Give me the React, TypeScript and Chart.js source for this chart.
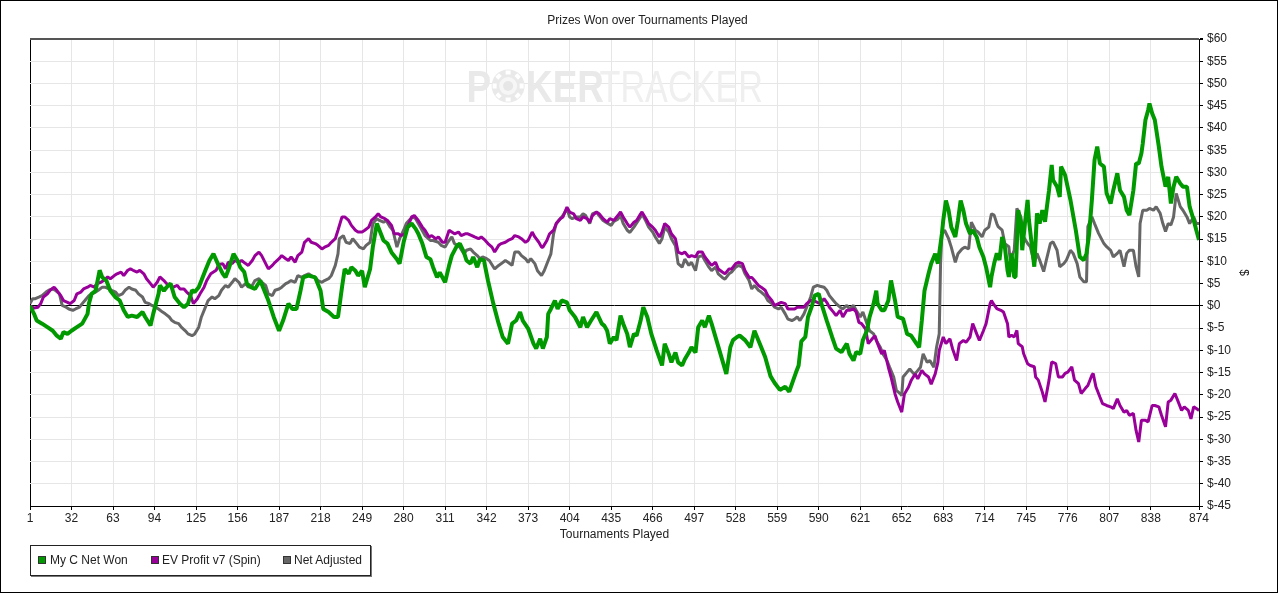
import React, { useEffect, useRef } from 'react';
import { Chart, registerables } from 'chart.js';

Chart.register(...registerables);

// ---------- data ----------
const chartTitle = 'Prizes Won over Tournaments Played';
const xAxisTitle = 'Tournaments Played';
const yAxisTitle = '$';
const seriesNames = ['My C Net Won', 'EV Profit v7 (Spin)', 'Net Adjusted'];
const seriesColors = ['#009900', '#990099', '#666666'];

const xTickValues = [1, 32, 63, 94, 125, 156, 187, 218, 249, 280, 311, 342, 373, 404, 435, 466, 497, 528, 559, 590, 621, 652, 683, 714, 745, 776, 807, 838, 874];
const yMin = -45;
const yMax = 60;
const yStep = 5;

// My C Net Won: tournament number / cumulative $
const greenT = [1, 4, 6, 10, 14, 18, 21, 24, 26, 29, 32, 36, 40, 44, 45, 47, 50, 53, 55, 58, 61, 65, 68, 71, 74, 77, 81, 85, 87, 91, 93, 97, 98, 101, 103, 106, 109, 113, 116, 119, 122, 124, 127, 129, 132, 135, 138, 142, 145, 147,
  149, 153, 156, 158, 161, 163, 166, 169, 173, 175, 179, 183, 187, 190, 194, 197, 200, 203, 205, 209, 214, 218, 220, 224, 228, 231, 234, 236, 239, 241, 244, 246, 249, 251, 255, 257, 260, 262, 265, 268, 271, 275, 277, 280, 283, 286,
  289, 291, 294, 297, 300, 302, 305, 307, 311, 314, 316, 320, 322, 325, 327, 330, 332, 335, 337, 340, 343, 347, 351, 354, 358, 361, 364, 367, 369, 373, 377, 379, 382, 384, 387, 388, 390, 393, 395, 398, 402, 404, 408, 412, 414, 417, 420, 424, 428,
  430, 432, 434, 437, 439, 442, 444, 447, 449, 452, 454, 457, 459, 462, 465, 469, 473, 475, 478, 480, 483, 485, 488, 490, 493, 495, 498, 500, 503, 505, 508, 510, 514, 518, 521, 524, 526, 529, 531, 535, 539, 542, 546, 550, 554, 557, 561, 565, 568, 571,
  573, 575, 577, 580, 582, 585, 587, 590, 592, 596, 600, 603, 607, 611, 613, 616, 618, 621, 623, 626, 628, 631, 633, 634, 637, 639, 642, 644, 647, 649, 653, 656, 659, 663, 665, 667, 669, 672, 674, 677, 679, 682, 683, 685, 687, 689, 692, 694, 696, 698, 700, 703, 705, 708, 710, 713, 715, 718,
  719, 721, 723, 725, 727, 729, 731, 732, 734, 736, 737, 739, 741, 742, 744, 746, 747, 749, 751, 753, 755, 757, 759, 762, 764, 765, 768, 770, 771, 774, 778, 782, 785, 788, 790, 792, 794, 796, 798, 800, 803, 805, 808, 810, 813, 815, 818, 820, 822, 825, 827, 829, 831, 832, 834, 836, 837, 839, 841, 844, 846, 849, 851, 853, 855, 857, 860, 862, 865, 867, 870, 872, 874];
const greenV = [0, -1.8, -3.3, -4, -4.8, -5.6, -6.7, -7.4, -5.9, -6.3, -5.6, -4.8, -4, -1.8, 0.5, 2.7, 3.4, 8, 6.4, 5.7, 3.4, 1.9, 1.2, -1, -2.5, -2.2, -2.5, -1.4, -2.5, -4.4, -1.8, 2.7, 4.6, 3.4, 4.2, 5, 2, 0.5, -0.3, 0.5, 3.5, 3.1, 4.2, 5.7, 8, 10.2, 11.7, 9, 7.2, 6.4,
  8, 11.7, 10.2, 8.7, 7.6, 5, 4.2, 3.8, 5.7, 4.2, 1.2, -2.5, -5.6, -3.3, 0.5, -0.7, -0.7, 3.4, 6.4, 6.8, 6.4, 3.4, -0.7, -1.4, -2.5, -2.5, 4.2, 8.3, 7.2, 8.7, 7.9, 6.8, 7.9, 4.2, 8.3, 13.2, 18.5, 17, 14.7, 14, 12, 10.5, 9.5, 14.3, 17.7, 18.5,
  17.3, 16.2, 14, 11, 10.5, 8.7, 6.4, 7.5, 5.3, 9.1, 11.3, 13.6, 14, 12.1, 10.2, 9.5, 11, 8.7, 10.5, 10.2, 5.7, 0.5, -4, -7, -8.5, -4, -3.3, -1.4, -3.3, -5.1, -8.5, -9.6, -7.4, -9.6, -7, -1.8, -0.7, 1.2, -0.7, 1.2, 0.8, -1, -2.5, -4.8, -2.5, -4.8, -3.3, -1.4, -4,
  -4.5, -5.6, -8.5, -7, -7.7, -2.2, -4, -6.3, -9.3, -6.3, -6.7, -3.3, -0.3, -2.5, -6.3, -10, -13.4, -8.5, -10.8, -12.7, -10.5, -12.7, -13.4, -12, -10.5, -9.3, -10.5, -4.8, -3.3, -4.8, -2.2, -4, -8.1, -12.2, -15.3, -9.3, -7.7, -7, -6.7, -7.7, -9.3, -5.6, -8.5, -11.5, -15.8, -17.3, -18.9, -18.2, -19.3, -16.7,
  -15, -13.4, -8, -7, -2.5, 0, 2.3, 2.7, 0.5, -3.3, -7, -9.6, -10.4, -8.5, -10.8, -12.3, -10.4, -10.8, -7.7, -5.6, -2.5, 0.5, 3.4, 0.5, -1, -1, 1.2, 5.7, 1.2, -2.5, -2.9, -6.3, -6.7, -8.5, -9.3, -3.3, 3.4, 7.2, 9.5, 11.7, 9.5, 16.2, 19.2, 23.7, 21.5, 17.7, 15.5, 19.2, 23.7, 21.5, 18.5, 16.2, 17, 15.5, 13.2, 11, 8.7, 4.2,
  6.5, 9.5, 11.8, 10.3, 15.5, 13.3, 8, 6.5, 11.8, 6.5, 6.5, 21.5, 18.5, 12.5, 18.5, 23.8, 19.3, 14, 8.8, 20.8, 18.5, 21.5, 18.9, 26, 31.7, 28.3, 26.8, 24.5, 31.3, 29.4, 23.8, 17, 11, 10.3, 11.8, 16.3, 23.8, 32.8, 35.8, 32, 31.3, 25.3, 23, 26, 29.8, 26, 24.5, 21.5, 20.4, 26, 32, 32, 34.3, 36.5, 41.8, 44, 45.5, 43.3, 41.8, 35.8, 31.3, 26.8, 29, 23, 26.8, 29, 27.5, 26.8, 26.8, 22.3, 19.3, 17, 14.8];

// EV Profit v7 (Spin)
const purpleT = [1, 4, 7, 9, 11, 14, 16, 19, 21, 24, 26, 29, 31, 34, 36, 39, 41, 44, 46, 49, 51, 54, 56, 59, 61, 64, 66, 69, 71, 74, 76, 78, 81, 83, 86, 88, 91, 93, 96, 98, 101, 103, 106, 108, 111, 113, 116, 118, 121, 123, 126, 128, 131, 133, 136, 138, 140, 142, 145, 147,
  149, 152, 154, 157, 159, 162, 164, 167, 169, 172, 174, 177, 179, 182, 184, 187, 189, 192, 194, 196, 199, 201, 204, 206, 209, 211, 214, 216, 219, 221, 224, 226, 229, 231, 234, 236, 239, 241, 244, 246, 249, 251, 254, 256, 259, 261, 263, 266, 268, 271, 273, 276, 278, 281, 283, 286,
  288, 291, 294, 296, 299, 301, 304, 306, 309, 311, 314, 316, 318, 321, 323, 326, 328, 331, 333, 336, 338, 341, 343, 346, 348, 351, 353, 356, 358, 361, 363, 366, 368, 371, 373, 376, 378, 381, 383, 384, 387, 389, 392, 394, 397, 399, 402, 404, 407, 409, 412, 414, 417, 419, 421, 424, 426, 429,
  432, 434, 437, 440, 442, 444, 447, 449, 452, 454, 457, 458, 461, 463, 466, 468, 471, 473, 475, 478, 480, 483, 485, 488, 490, 493, 495, 498, 500, 503, 505, 508, 510, 513, 515, 518, 520, 523, 525, 528, 530, 533, 535, 538, 540, 542, 545, 547, 550, 552, 555, 557, 560, 562, 565, 567, 570, 572,
  574, 576, 579, 581, 584, 586, 589, 591, 594, 596, 598, 601, 603, 606, 608, 611, 613, 616, 618, 620, 622, 625, 627, 630, 632, 634, 637, 639, 642, 644, 647, 649, 652, 654, 657, 659, 662, 664, 667, 669, 672, 674, 677, 679, 680, 683, 685, 688, 690, 693, 695, 698, 700, 703, 705, 708, 710, 713, 715, 718,
  719, 721, 723, 726, 728, 731, 732, 734, 736, 738, 739, 742, 743, 746, 748, 751, 752, 754, 757, 759, 762, 764, 767, 769, 772, 774, 776, 779, 781, 784, 786, 789, 791, 794, 795, 797, 800, 802, 805, 808, 810, 813, 815, 818, 820, 822, 825, 827, 829, 831, 834, 836, 839, 841, 844, 846, 849, 851, 853, 856, 858, 861, 863, 866, 868, 870, 872, 874];
const purpleV = [0, -0.5, -0.3, 0.5, 2, 2.7, 3.5, 4.2, 3.5, 2.3, 1.2, 0.8, 0.5, 1.2, 2.7, 3.1, 3.8, 4.2, 4.6, 4.2, 5, 5.3, 5.7, 6.5, 6.1, 6.8, 7.2, 7.6, 6.8, 8, 8.3, 8, 7.6, 8, 7.2, 6.1, 5, 4.2, 5.3, 6.5, 5.7, 5, 4.6, 4.2, 4.6, 3.8, 3.8, 3.1, 2.3, 0.5, 1.6, 2.7, 4.2, 5.7, 7.2, 7.6, 8, 9.3, 9.5, 8.3,
  9.8, 9.5, 10.2, 9.8, 10.2, 9.5, 9.1, 10.2, 11.3, 12.1, 11.3, 9.5, 8.3, 9.1, 9.8, 10.6, 11.3, 10.6, 10.2, 11, 9.8, 11.3, 12.1, 14.3, 15.1, 14.3, 14, 13.6, 12.8, 13.2, 13.6, 14.3, 15.1, 17, 20, 20, 19.2, 18.1, 17, 16.6, 16.6, 17, 17.7, 19.2, 20, 20.7, 20, 19.6, 19.2, 18.1, 16.2, 16.2, 15.8, 16.2, 17.7, 20,
  20.3, 19.2, 17.7, 17, 15.5, 15.8, 15.1, 15.5, 14.3, 14.3, 17, 16.6, 16.2, 16.6, 15.8, 16.2, 16.2, 15.8, 15.5, 15.1, 15.5, 14.7, 14, 13.2, 12.1, 13.6, 14, 14.3, 14.7, 15.1, 15.8, 15.5, 15.1, 14.3, 14.7, 16.6, 15.5, 14.3, 13.2, 13.2, 14.7, 16.2, 17, 18.5, 19.6, 20, 22.2, 21.1, 20.7, 19.6, 19.2, 20, 19.6, 18.8, 20.3, 21.1, 20.7, 19.6,
  18.8, 19.6, 19.2, 20.3, 21.1, 20, 18.5, 17.7, 18.8, 19.2, 20.7, 21.1, 19.6, 18.5, 17.7, 17, 15.5, 16.6, 18.5, 17.7, 16.2, 15.1, 12.1, 11.7, 12.1, 11, 11.3, 11, 12.1, 12.1, 11, 9.8, 9.1, 9.8, 8.3, 7.6, 7.2, 8.3, 8.3, 9.5, 9.8, 9.5, 7.9, 6.4, 6.4, 5.7, 4.6, 4.2, 3.5, 2.3, 1.2, 0.1, 0.5, 0.8, 0.5, -0.7, -0.7, -0.7,
  -0.3, -0.3, -0.3, 0.5, 1.2, 1.2, 0.8, 0.5, 1.6, 0.8, -0.3, -1.4, -2.2, -1, -2.5, -1, -1, -0.7, -1.4, -3.7, -4, -5.2, -8.5, -7.4, -6.7, -8.5, -10.8, -10, -13.8, -16, -19.8, -21.6, -23.9, -19.8, -18.3, -16.8, -15.3, -16.4, -14.5, -15.3, -16, -17.6, -15.3, -12.7, -10, -7, -8.5, -7.4, -9.7, -12.3, -8.5, -7.8, -8.2, -7, -4, -6.3, -7.8, -5.6, -4, 0.5,
  1.2, 0.2, -0.6, -1, -1.4, -4, -7, -6.6, -7, -5.5, -8.5, -9.2, -10.7, -13, -13.4, -13.7, -16, -16.7, -19.4, -21.6, -16.7, -12.6, -13, -16, -16, -15.2, -14.9, -13.7, -16.7, -17.5, -19.7, -18.6, -17.9, -15.6, -15.2, -18.2, -20.5, -22, -22.4, -22.7, -23.1, -20.9, -22.4, -23.9, -23.5, -24.6, -24.2, -28, -30.6, -25.7, -25.7, -26.1, -22.4, -22.4, -22.7, -24.6, -27.2, -21.6, -21.2, -19.7, -21.2, -23.5, -22.7, -23.5, -25.4, -22.7, -23.1, -23.5];

// Net Adjusted
const grayT = [1, 3, 5, 8, 10, 13, 15, 18, 20, 23, 25, 28, 30, 33, 35, 38, 40, 42, 45, 47, 50, 52, 55, 57, 60, 62, 65, 67, 70, 72, 75, 77, 80, 82, 85, 87, 90, 92, 95, 97, 100, 102, 105, 107, 109, 112, 114, 117, 119, 122, 124, 127, 129, 132, 134, 137, 139, 142, 144, 147,
  149, 152, 154, 157, 159, 162, 164, 167, 169, 172, 174, 177, 179, 182, 184, 187, 189, 192, 194, 196, 199, 201, 204, 206, 209, 211, 214, 216, 219, 221, 224, 226, 229, 231, 232, 235, 237, 240, 242, 245, 247, 250, 252, 255, 257, 260, 262, 265, 267, 270, 272, 275, 277, 280, 282, 284, 287, 289, 291,
  296, 300, 302, 306, 308, 311, 313, 316, 318, 322, 325, 327, 330, 332, 335, 337, 339, 342, 344, 348, 351, 353, 356, 358, 361, 363, 366, 368, 371, 373, 375, 378, 380, 383, 385, 388, 390, 392, 394, 397, 399, 402, 404, 406, 409, 412, 414, 416, 419, 421, 424, 426, 429, 431, 435,
  437, 440, 442, 444, 447, 449, 452, 457, 458, 461, 463, 466, 468, 471, 473, 475, 478, 480, 483, 485, 488, 490, 493, 495, 498, 500, 503, 505, 508, 510, 513, 515, 518, 520, 523, 525, 528, 530, 533, 535, 538, 540, 542, 545, 547, 550, 552, 555, 557, 560, 562, 565, 567, 570, 572,
  574, 576, 579, 581, 584, 586, 589, 591, 594, 596, 598, 601, 603, 606, 608, 611, 613, 616, 618, 621, 623, 626, 628, 631, 633, 636, 638, 641, 643, 646, 648, 651, 652, 653, 656, 658, 661, 663, 666, 668, 671, 673, 676, 678, 680, 681, 682, 684, 687, 689, 692, 694, 697, 699, 702, 704, 707, 709, 712, 714, 717,
  719, 721, 723, 724, 727, 729, 732, 733, 736, 738, 741, 743, 746, 748, 751, 753, 755, 758, 760, 763, 765, 768, 770, 773, 775, 778, 780, 783, 785, 788, 790, 791, 794, 796, 799, 803, 805, 808, 810, 813, 815, 818, 820, 822, 825, 827, 829, 830, 832, 835, 837, 840, 842, 845, 847, 849, 851, 853, 855, 857, 860, 862, 865, 867, 870, 872, 874];
const grayV = [0.5, 1.6, 1.6, 2, 2.3, 3.1, 3.5, 3.8, 3.5, 2.7, 0.1, -0.3, -0.7, -1, -0.7, -0.3, 0.5, 1.2, 2.3, 2.7, 3.1, 3.5, 4.2, 4.2, 3.8, 3.5, 3.1, 2.3, 2.7, 3.5, 4.2, 3.8, 3.5, 2.7, 2, 0.8, 0.5, 0.1, -0.3, -0.7, -1.4, -1.8, -2.5, -3.3, -3.7, -4, -4.8, -5.6, -6.3, -6.7, -6.3, -4.8, -2.5, -0.3, 1.2, 2, 1.6, 2.3, 3.5, 4.6,
  4.2, 5.3, 6.1, 5.3, 4.2, 5, 4.2, 4.6, 5.7, 6.1, 5.3, 4.6, 2.7, 2.3, 3.5, 3.8, 4.2, 5, 5.3, 5.7, 5.3, 6.8, 6.4, 6.8, 7.2, 6.8, 6.4, 5.7, 5.3, 5.7, 6.1, 6.8, 9.1, 11.7, 15.1, 15.8, 14.3, 14, 15.1, 14, 13.2, 12.8, 13.6, 14.3, 18.5, 19.6, 19.2, 18.8, 19.2, 17.7, 17, 13.2, 15.1, 17, 18.5, 19.2, 20, 19.6, 18.5,
  15.8, 14.7, 14.7, 14.3, 13.6, 13.2, 14.3, 15.5, 14, 13.2, 11.7, 12.5, 12.8, 12.1, 11.3, 10.6, 11, 10.6, 10.2, 8.3, 9.1, 9.5, 10.2, 9.8, 9.1, 12.1, 12.1, 11.3, 10.6, 9.8, 10.6, 9.5, 7.9, 6.8, 7.9, 10.2, 11.7, 16.2, 18.5, 19.6, 20.3, 21.8, 20, 19.6, 20, 20, 20.7, 20.3, 18.5, 20.7, 21.1, 20.3, 19.2, 18.8, 18.1,
  19, 19.5, 20.3, 18.5, 17, 16.5, 17.7, 20, 20.7, 19, 17.7, 16.6, 15.5, 14, 15.1, 17.7, 16.6, 15.1, 13.5, 9.5, 8.7, 10.5, 9.1, 9.8, 7.9, 11, 11.3, 10.2, 8.7, 7.9, 8.7, 7.2, 6.4, 6, 7.2, 7.6, 8.7, 9.1, 8.7, 7.2, 5.7, 3.8, 4.6, 3.5, 3.1, 2.3, 1.2, 0.5, -0.3, -0.7, -0.3, -1.8, -3, -3.3, -3,
  -2.5, -3.3, -1.8, -0.3, 2, 4.2, 4.6, 4.4, 4.2, 3.5, 2.3, 1.2, 0.5, -0.3, -0.7, 0.1, -0.7, 0.1, -1, -2.5, -1.4, -4, -5.6, -6.3, -7.8, -9.3, -10.8, -12.3, -13.8, -16, -19, -19.8, -20.2, -16, -14.9, -14.2, -15.3, -14.9, -13.8, -10.8, -12.7, -12.3, -13.8, -9.3, -6.3, 9.5, 16.2, 17, 15.1, 13.2, 9.8, 11.7, 12.8, 13.2, 12.8, 18.8, 17, 16.6, 15.5, 17, 17.7,
  20.7, 20.4, 18.5, 17.8, 17, 14, 13.3, 10.3, 12.5, 21.9, 20, 15.5, 14, 13.3, 9.5, 11.8, 10.3, 7.7, 10.3, 14, 14.4, 12.5, 8.8, 9.5, 10.3, 12.5, 11.8, 9.5, 6.5, 5.4, 5.4, 17.8, 20, 18.5, 16.3, 14, 13.3, 12.5, 11, 11.8, 12.5, 8.8, 11.8, 12.5, 12.5, 8.8, 6.5, 18.5, 21.5, 21.5, 21.9, 21.5, 22.3, 20.8, 18.5, 16.7, 18.5, 18.2, 20, 25.3, 22.3, 21.5, 20, 18.5, 20, 18.5, 18.5];

const toPoints = (t: number[], v: number[]) => t.map((x, i) => ({ x, y: v[i] }));

const FONT = '"Liberation Sans", Arial, Helvetica, sans-serif';

const watermarkPlugin = {
  id: 'pokerWatermark',
  beforeDatasetsDraw(chart: any) {
    const { ctx, chartArea } = chart;
    const cx = chartArea.left + (chartArea.right - chartArea.left) * 0.5 - 1;
    const baseY = 101;
    ctx.save();
    // "P" + chip + "KER" (bold), then "TRACKER" (light)
    ctx.fillStyle = '#e9e9e9';
    ctx.textBaseline = 'alphabetic';
    ctx.font = `bold 45px ${FONT}`;
    const startX = cx - 147;
    ctx.save();
    ctx.translate(startX, baseY);
    ctx.scale(0.82, 1);
    ctx.fillText('P', 0, 0);
    const pW = ctx.measureText('P').width;
    ctx.restore();
    // chip
    const chipCx = startX + pW * 0.82 + 17;
    const chipCy = baseY - 16;
    ctx.beginPath();
    ctx.arc(chipCx, chipCy, 16.5, 0, Math.PI * 2);
    ctx.fillStyle = '#e9e9e9';
    ctx.fill();
    ctx.fillStyle = '#ffffff';
    for (let i = 0; i < 8; i++) {
      const a = (i * Math.PI) / 4;
      ctx.save();
      ctx.translate(chipCx + Math.cos(a) * 13.5, chipCy + Math.sin(a) * 13.5);
      ctx.rotate(a);
      ctx.fillRect(-2, -2.5, 4, 5);
      ctx.restore();
    }
    ctx.beginPath();
    ctx.arc(chipCx, chipCy, 9, 0, Math.PI * 2);
    ctx.fillStyle = '#f6f6f6';
    ctx.fill();
    ctx.beginPath();
    ctx.arc(chipCx, chipCy, 5, 0, Math.PI * 2);
    ctx.fillStyle = '#e6e6e6';
    ctx.fill();
    ctx.fillStyle = '#e9e9e9';
    ctx.save();
    ctx.translate(chipCx + 18, baseY);
    ctx.scale(0.82, 1);
    ctx.fillText('KER', 0, 0);
    ctx.restore();
    ctx.font = `45px ${FONT}`;
    ctx.fillStyle = '#efefef';
    ctx.save();
    ctx.translate(startX + 133, baseY);
    ctx.scale(0.76, 1);
    ctx.fillText('TRACKER', 0, 0);
    ctx.restore();
    ctx.restore();
  },
};

export default function App() {
  const canvasRef = useRef<HTMLCanvasElement>(null);

  useEffect(() => {
    document.body.style.margin = '0';
    const canvas = canvasRef.current;
    if (!canvas) return;
    Chart.defaults.font.family = FONT;
    Chart.defaults.font.size = 12;
    Chart.defaults.color = '#222222';

    const chart = new Chart(canvas, {
      type: 'line',
      data: {
        datasets: [
          {
            label: seriesNames[0],
            data: toPoints(greenT, greenV),
            borderColor: seriesColors[0],
            backgroundColor: seriesColors[0],
            borderWidth: 4,
            pointRadius: 0,
            tension: 0,
            fill: false,
            borderJoinStyle: 'bevel',
          },
          {
            label: seriesNames[1],
            data: toPoints(purpleT, purpleV),
            borderColor: seriesColors[1],
            backgroundColor: seriesColors[1],
            borderWidth: 3,
            pointRadius: 0,
            tension: 0,
            fill: false,
            borderJoinStyle: 'bevel',
          },
          {
            label: seriesNames[2],
            data: toPoints(grayT, grayV),
            borderColor: seriesColors[2],
            backgroundColor: seriesColors[2],
            borderWidth: 3,
            pointRadius: 0,
            tension: 0,
            fill: false,
            borderJoinStyle: 'bevel',
          },
        ],
      },
      options: {
        responsive: false,
        animation: false,
        events: [],
        layout: { padding: { left: 29, right: 12, top: 0, bottom: 46 } },
        plugins: {
          legend: { display: false },
          tooltip: { enabled: false },
          title: {
            display: true,
            text: chartTitle,
            color: '#222222',
            font: { size: 12, weight: 'normal', family: FONT },
            padding: { top: 12.8, bottom: 10.8 },
          },
        },
        scales: {
          x: {
            type: 'linear',
            position: 'bottom',
            min: xTickValues[0],
            max: xTickValues[xTickValues.length - 1],
            afterBuildTicks: (scale: any) => {
              scale.ticks = xTickValues.map((v) => ({ value: v }));
            },
            afterFit: (scale: any) => {
              scale.height = 40;
            },
            grid: {
              color: (c: any) => (c.tick && c.tick.value === xTickValues[0] ? '#000000' : '#e6e6e6'),
              tickColor: '#000000',
              tickLength: 4,
              drawTicks: true,
            },
            border: { color: '#000000', width: 1 },
            ticks: {
              autoSkip: false,
              maxRotation: 0,
              padding: 1,
              color: '#222222',
              font: { size: 12 },
              callback: (v: any) => String(v),
            },
            title: {
              display: true,
              text: xAxisTitle,
              color: '#222222',
              font: { size: 12 },
              padding: { top: 0, bottom: 3.8 },
            },
          },
          y: {
            type: 'linear',
            position: 'right',
            min: yMin,
            max: yMax,
            afterFit: (scale: any) => {
              scale.width = 66;
            },
            grid: {
              color: (c: any) => {
                if (!c.tick) return '#e6e6e6';
                if (c.tick.value === 0) return '#000000';
                if (c.tick.value === yMax) return '#555555';
                return '#e6e6e6';
              },
              lineWidth: (c: any) => (c.tick && c.tick.value === yMax ? 2 : 1),
              tickColor: '#000000',
              tickLength: 4,
            },
            border: { color: '#000000', width: 1 },
            ticks: {
              stepSize: yStep,
              autoSkip: false,
              padding: 4,
              color: '#222222',
              font: { size: 12 },
              callback: (v: any) => '$' + v,
            },
            title: {
              display: true,
              text: yAxisTitle,
              color: '#222222',
              font: { size: 12 },
              padding: { top: 14.8, bottom: 0 },
            },
          },
        },
      },
      plugins: [watermarkPlugin],
    } as any);

    return () => chart.destroy();
  }, []);

  const legendItems = [
    { box: 7, text: 19 },
    { box: 120, text: 131 },
    { box: 252, text: 263 },
  ];

  return (
    <div
      style={{
        position: 'relative',
        width: 1278,
        height: 593,
        border: '1px solid #000',
        boxSizing: 'border-box',
        background: '#ffffff',
        fontFamily: FONT,
        overflow: 'hidden',
      }}
    >
      <canvas ref={canvasRef} width={1276} height={591} style={{ position: 'absolute', left: 0, top: 0, width: 1276, height: 591 }} />
      <div
        style={{
          position: 'absolute',
          left: 29,
          top: 544,
          width: 341,
          height: 31,
          boxSizing: 'border-box',
          border: '1px solid #222',
          boxShadow: '1px 1px 0 #777',
          background: '#ffffff',
        }}
      >
        {legendItems.map((it, i) => (
          <React.Fragment key={seriesNames[i]}>
            <div
              style={{
                position: 'absolute',
                left: it.box,
                top: 10,
                width: 8,
                height: 8,
                boxSizing: 'border-box',
                border: '1px solid #333',
                background: seriesColors[i],
              }}
            />
            <div
              style={{
                position: 'absolute',
                left: it.text,
                top: 7,
                height: 14,
                lineHeight: '14px',
                fontSize: 12,
                color: '#222',
                whiteSpace: 'nowrap',
              }}
            >
              {seriesNames[i]}
            </div>
          </React.Fragment>
        ))}
      </div>
    </div>
  );
}
